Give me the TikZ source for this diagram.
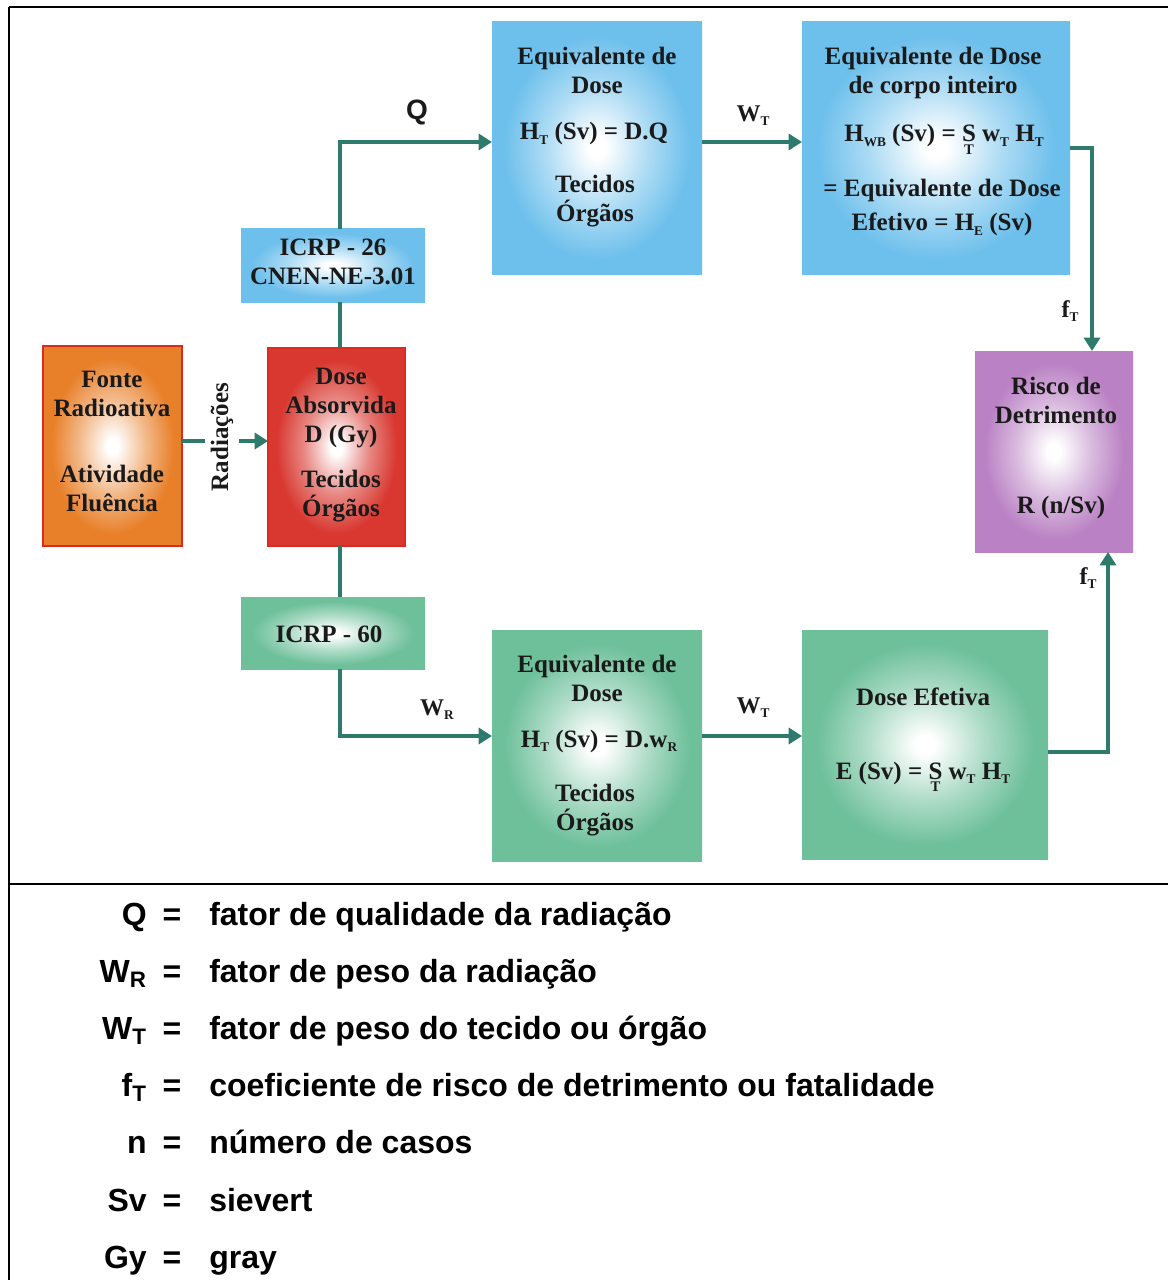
\documentclass[tikz,border=0pt]{standalone}
\usepackage{fontspec}
\setmainfont{Liberation Serif}
\newfontfamily\sansf{Liberation Sans}
\usetikzlibrary{arrows.meta,calc,fit}

\definecolor{bluec}{HTML}{6EC0EC}
\definecolor{greenc}{HTML}{6EC09B}
\definecolor{purplec}{HTML}{BA82C4}
\definecolor{orangec}{HTML}{E8802A}
\definecolor{redc}{HTML}{D83830}
\definecolor{borderred}{HTML}{DC2A20}
\definecolor{linec}{HTML}{2E7A6C}
\definecolor{txtc}{HTML}{1A1A1A}

\pgfdeclareradialshading{blueglow}{\pgfpoint{0bp}{0bp}}{color(0bp)=(white); color(2bp)=(white); color(12bp)=(bluec!55); color(22bp)=(bluec); color(50bp)=(bluec)}
\pgfdeclareradialshading{greenglow}{\pgfpoint{0bp}{0bp}}{color(0bp)=(white); color(2bp)=(white); color(12bp)=(greenc!55); color(22bp)=(greenc); color(50bp)=(greenc)}
\pgfdeclareradialshading{purpleglow}{\pgfpoint{0bp}{0bp}}{color(0bp)=(white); color(2bp)=(white); color(12bp)=(purplec!55); color(22bp)=(purplec); color(50bp)=(purplec)}
\pgfdeclareradialshading{orangeglow}{\pgfpoint{0bp}{0bp}}{color(0bp)=(white); color(2bp)=(white); color(12bp)=(orangec!55); color(22bp)=(orangec); color(50bp)=(orangec)}
\pgfdeclareradialshading{redglow}{\pgfpoint{0bp}{0bp}}{color(0bp)=(white); color(2bp)=(white); color(12bp)=(redc!60); color(22bp)=(redc); color(50bp)=(redc)}

\newcommand\sbs[1]{\raisebox{-0.35ex}{\fontsize{10}{10}\selectfont\bfseries #1}}
\newcommand\sumT{\ensuremath{\mathop{\hbox{S}}\limits_{\hbox{\fontsize{11}{11}\selectfont\bfseries T}}}}

\tikzset{
  box/.style={inner sep=0pt, outer sep=0pt, shade},
  bluebox/.style={box, shading=blueglow},
  greenbox/.style={box, shading=greenglow},
  purplebox/.style={box, shading=purpleglow},
  orangebox/.style={box, shading=orangeglow, draw=borderred, line width=2.2pt},
  redbox/.style={box, shading=redglow, draw=borderred, line width=2.2pt},
  boxtxt/.style={font=\fontsize{18.75}{21.75}\selectfont\bfseries, align=center, anchor=base, inner sep=0pt, text=txtc},
  lbl/.style={font=\fontsize{18}{18}\selectfont\bfseries, anchor=center, inner sep=0pt, text=txtc},
  qlbl/.style={font=\sansf\bfseries\fontsize{21}{21}\selectfont, anchor=center, inner sep=0pt, text=txtc},
  conn/.style={draw=linec, line width=3pt},
  tip/.style={-{Triangle[length=10pt,width=12pt]}},
  frame/.style={line width=2.2pt, black},
  legsym/.style={font=\sansf\bfseries\fontsize{24}{24}\selectfont, anchor=base east, inner sep=0pt},
  legeq/.style={font=\sansf\bfseries\fontsize{24}{24}\selectfont, anchor=base, inner sep=0pt},
  legtxt/.style={font=\sansf\bfseries\fontsize{24}{24}\selectfont, anchor=base west, inner sep=0pt},
}

\begin{document}
\begin{tikzpicture}[x=0.75pt,y=-0.75pt]
\useasboundingbox (0,0) rectangle (1168,1280);
\fill[white] (0,0) rectangle (1168,1280);

% frame
\draw[frame] (9,7) -- (1168,7);
\draw[frame] (9,7) -- (9,1280);
\draw[frame] (9,884) -- (1168,884);

% boxes
\node[orangebox, fit={(43,346) (182,546)}] (src) {};
\node[redbox, fit={(268,348) (405,546)}] (dose) {};
\node[bluebox, fit={(241,229) (425,302)}] (i26) {};
\node[greenbox, fit={(241,597) (425,669)}] (i60) {};
\node[bluebox, fit={(492,22) (702,274)}] (b1) {};
\node[bluebox, fit={(802,22) (1070,274)}] (b2) {};
\node[purplebox, fit={(975,351) (1133,552)}] (risk) {};
\node[greenbox, fit={(492,630) (702,861)}] (g1) {};
\node[greenbox, fit={(802,630) (1048,859)}] (g2) {};

% connectors
\draw[conn, tip] (src.east |- 0,441) -- (dose.west |- 0,441);
\node[rotate=90, font=\fontsize{18.75}{18.75}\selectfont\bfseries, text=txtc, fill=white, inner xsep=0pt, inner ysep=4.5pt] (rad) at (222,437) {Radiações};

\draw[conn] (340,348) -- (340,302);
\draw[conn, tip] (340,229) |- (492,142);
\draw[conn, tip] (b1.east |- 0,142) -- (b2.west |- 0,142);
\draw[conn, tip] (b2.east |- 0,148) -| (1092,351);

\draw[conn] (340,546) -- (340,597);
\draw[conn, tip] (340,669) |- (492,736);
\draw[conn, tip] (g1.east |- 0,736) -- (g2.west |- 0,736);
\draw[conn, tip] (g2.east |- 0,752) -| (1108,552);

% connector labels
\node[qlbl] (lq) at (417,112) {Q};
\node[lbl] (lwt1) at (753,116) {W\sbs{T}};
\node[lbl] (lft1) at (1070,311) {f\sbs{T}};
\node[lbl] (lwr) at (437,710) {W\sbs{R}};
\node[lbl] (lwt2) at (753,708) {W\sbs{T}};
\node[lbl] (lft2) at (1088,578) {f\sbs{T}};

% box texts (anchor base = baseline of last line)
\node[boxtxt] (srcA) at (112,416) {Fonte\\Radioativa};
\node[boxtxt] (srcB) at (112,511) {Atividade\\Fluência};

\node[boxtxt] (doseA) at (341,442) {Dose\\Absorvida\\D (Gy)};
\node[boxtxt] (doseB) at (341,516) {Tecidos\\Órgãos};

\node[boxtxt] (i26t) at (333,284) {ICRP - 26\\CNEN-NE-3.01};
\node[boxtxt] (i60t) at (329,642) {ICRP - 60};

\node[boxtxt] (b1A) at (597,94) {Equivalente de\\Dose};
\node[boxtxt] (b1B) at (594,140) {H\sbs{T} (Sv) = D.Q};
\node[boxtxt] (b1C) at (595,222) {Tecidos\\Órgãos};

\node[boxtxt] (b2A) at (933,94) {Equivalente de Dose\\de corpo inteiro};
\node[boxtxt] (b2B) at (944,142) {H\sbs{WB} (Sv) = \sumT\ w\sbs{T} H\sbs{T}};
\node[boxtxt, font=\fontsize{18.75}{25.5}\selectfont\bfseries] (b2C) at (942,231) {= Equivalente de Dose\\Efetivo = H\sbs{E} (Sv)};

\node[boxtxt] (rA) at (1056,423) {Risco de\\Detrimento};
\node[boxtxt] (rB) at (1061,513) {R (n/Sv)};

\node[boxtxt] (g1A) at (597,701) {Equivalente de\\Dose};
\node[boxtxt] (g1B) at (599,747) {H\sbs{T} (Sv) = D.w\sbs{R}};
\node[boxtxt] (g1C) at (595,830) {Tecidos\\Órgãos};

\node[boxtxt] (g2A) at (923,705) {Dose Efetiva};
\node[boxtxt] (g2B) at (923,779) {E (Sv) = \sumT\ w\sbs{T} H\sbs{T}};

% legend
\foreach \s/\t [count=\i] in {Q/fator de qualidade da radiação, W\textsubscript{R}/fator de peso da radiação, W\textsubscript{T}/fator de peso do tecido ou órgão, f\textsubscript{T}/coeficiente de risco de detrimento ou fatalidade, n/número de casos, Sv/sievert, Gy/gray}{
  \node[legsym] (ls\i) at (147,{925+57.2*(\i-1)}) {\s};
  \node[legeq] (le\i) at (172,{925+57.2*(\i-1)}) {=};
  \node[legtxt] (lt\i) at (209,{925+57.2*(\i-1)}) {\t};
}
\end{tikzpicture}
\end{document}
